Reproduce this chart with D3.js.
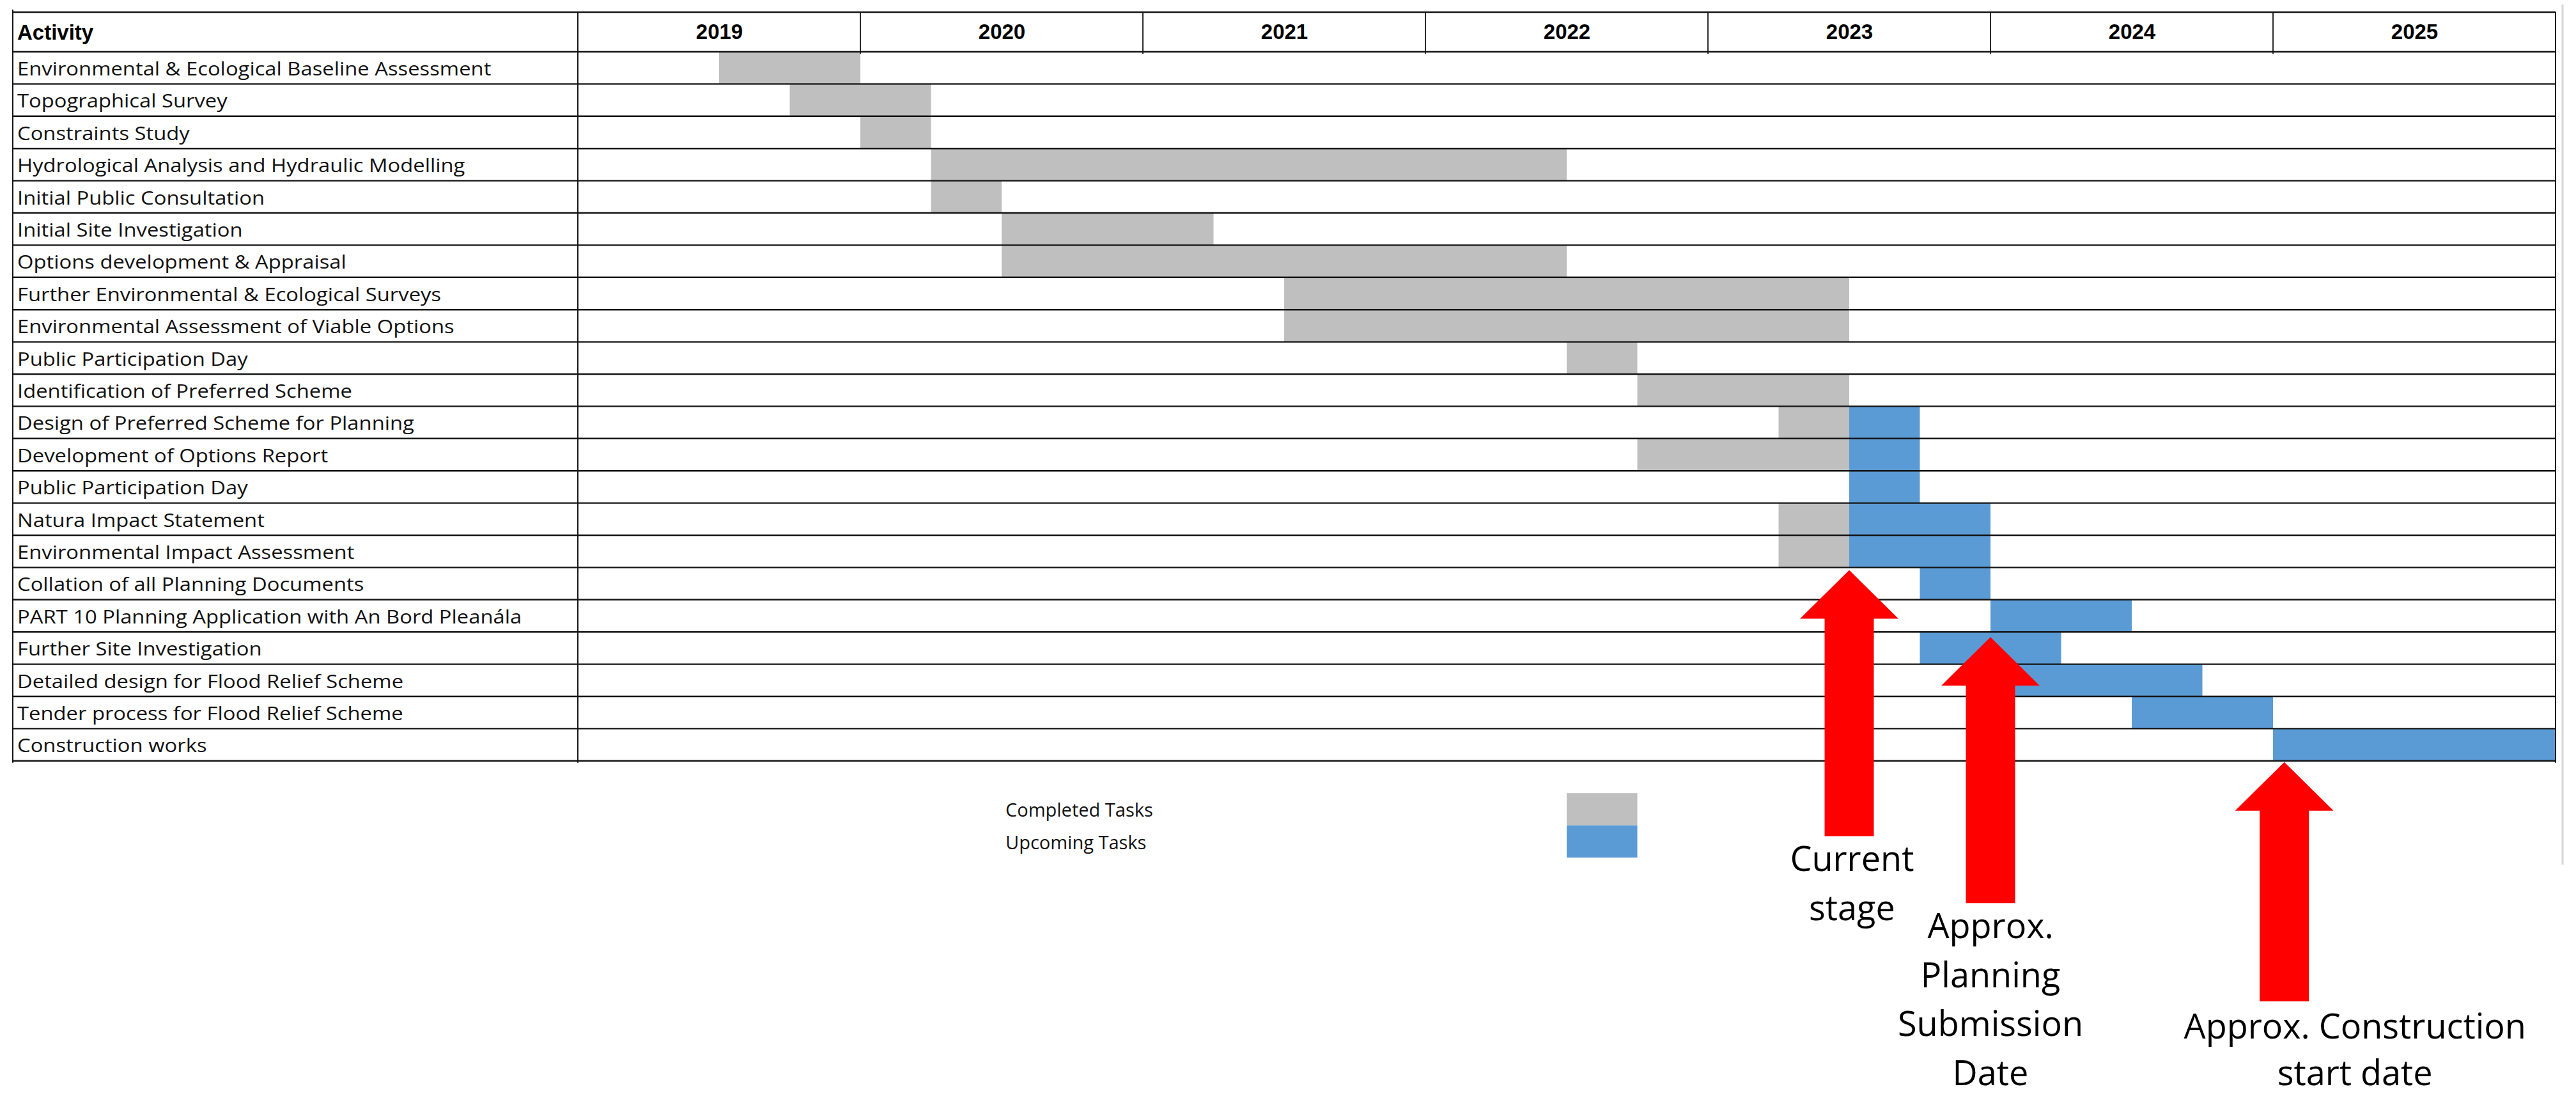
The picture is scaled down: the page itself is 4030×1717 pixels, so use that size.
<!DOCTYPE html>
<html>
<head>
<meta charset="utf-8">
<script src="https://cdn.jsdelivr.net/npm/d3@7"></script>
<style>
  html, body { margin: 0; padding: 0; background: #fff; }
  svg { display: block; }
</style>
</head>
<body>
<svg id="chart" width="4030" height="1717"></svg>
<script>
// ---------------- DATA ----------------
const activities = [
  "Environmental & Ecological Baseline Assessment",
  "Topographical Survey",
  "Constraints Study",
  "Hydrological Analysis and Hydraulic Modelling",
  "Initial Public Consultation",
  "Initial Site Investigation",
  "Options development & Appraisal",
  "Further Environmental & Ecological Surveys",
  "Environmental Assessment of Viable Options",
  "Public Participation Day",
  "Identification of Preferred Scheme",
  "Design of Preferred Scheme for Planning",
  "Development of Options Report",
  "Public Participation Day",
  "Natura Impact Statement",
  "Environmental Impact Assessment",
  "Collation of all Planning Documents",
  "PART 10 Planning Application with An Bord Pleanála",
  "Further Site Investigation",
  "Detailed design for Flood Relief Scheme",
  "Tender process for Flood Relief Scheme",
  "Construction works"
];

// completed (grey) task spans, in fractional years [start, end]
const completed = [
  [2019.5, 2020.0],
  [2019.75, 2020.25],
  [2020.0, 2020.25],
  [2020.25, 2022.5],
  [2020.25, 2020.5],
  [2020.5, 2021.25],
  [2020.5, 2022.5],
  [2021.5, 2023.5],
  [2021.5, 2023.5],
  [2022.5, 2022.75],
  [2022.75, 2023.5],
  [2023.25, 2023.5],
  [2022.75, 2023.5],
  null,
  [2023.25, 2023.5],
  [2023.25, 2023.5],
  null, null, null, null, null, null
];

// upcoming (blue) task spans, in fractional years [start, end]
const upcoming = [
  null, null, null, null, null, null, null, null, null, null, null,
  [2023.5, 2023.75],
  [2023.5, 2023.75],
  [2023.5, 2023.75],
  [2023.5, 2024.0],
  [2023.5, 2024.0],
  [2023.75, 2024.0],
  [2024.0, 2024.5],
  [2023.75, 2024.25],
  [2024.0, 2024.75],
  [2024.5, 2025.0],
  [2025.0, 2026.0]
];

const years = [2019, 2020, 2021, 2022, 2023, 2024, 2025];

const legendLabels = ["Completed Tasks", "Upcoming Tasks"];
const legendSpan = [2022.5, 2022.75];

// milestone arrows: date pointed at, row the tip reaches, label anchor date, label lines
const markerDates = [2023.5, 2024.0, 2025.04];
const markerRows = [16, 18, 22];
const markerLabelAt = [2023.51, 2024.0, 2025.29];
const markerLabels = [
  ["Current", "stage"],
  ["Approx.", "Planning", "Submission", "Date"],
  ["Approx. Construction", "start date"]
];

// ---------------- LAYOUT ----------------
const COLORS = { done: "#bfbfbf", todo: "#5b9bd5", arrow: "#ff0000", line: "#141414" };
const tableLeft = 20, labelColRight = 904, tableRight = 3998;
const tableTop = 19, headerBottom = 81, rowStep = 50.4;
const nRows = activities.length + 3; // 22 activities + blank row + 2 legend rows

const svg = d3.select("#chart");
svg.append("rect").attr("width", 4030).attr("height", 1717).attr("fill", "#fff");

const x = d3.scaleLinear().domain([2019, 2026]).range([labelColRight, tableRight]);
const y = d3.scaleBand().domain(d3.range(nRows))
  .range([headerBottom, headerBottom + nRows * rowStep]).paddingInner(0).paddingOuter(0);
const tableBottom = y(activities.length - 1) + y.bandwidth();

// faint page edge line
svg.append("line").attr("x1", 4009).attr("x2", 4009).attr("y1", 7).attr("y2", 1352)
  .attr("stroke", "#d6d6d6").attr("stroke-width", 3);

// bars
const bars = svg.append("g");
function drawSpans(spans, color) {
  const data = spans.map((s, i) => ({ s, i })).filter(d => d.s);
  bars.selectAll(null).data(data).enter().append("rect")
    .attr("x", d => x(d.s[0]))
    .attr("width", d => x(d.s[1]) - x(d.s[0]))
    .attr("y", d => y(d.i))
    .attr("height", y.bandwidth())
    .attr("fill", color);
}
drawSpans(completed, COLORS.done);
drawSpans(upcoming, COLORS.todo);

// legend swatches
[COLORS.done, COLORS.todo].forEach((c, k) => {
  svg.append("rect")
    .attr("x", x(legendSpan[0])).attr("width", x(legendSpan[1]) - x(legendSpan[0]))
    .attr("y", y(activities.length + 1 + k)).attr("height", y.bandwidth())
    .attr("fill", c);
});
svg.append("g").selectAll("text").data(legendLabels).enter().append("text")
  .attr("x", x(2020.5) + 6)
  .attr("y", (d, k) => y(activities.length + 1 + k) + 37)
  .attr("font-family", "'Open Sans', sans-serif").attr("font-size", 29)
  .attr("fill", "#111").text(d => d);

// grid lines
const grid = svg.append("g").attr("stroke", COLORS.line).attr("stroke-width", 2.4);
const hLines = [tableTop].concat(d3.range(activities.length + 1).map(i => i < activities.length ? y(i) : tableBottom));
grid.selectAll(".h").data(hLines).enter().append("line")
  .attr("x1", tableLeft).attr("x2", tableRight)
  .attr("y1", d => d).attr("y2", d => d);
grid.append("line").attr("x1", tableLeft).attr("x2", tableLeft).attr("y1", 15).attr("y2", tableBottom + 3).attr("stroke-width", 2);
grid.append("line").attr("x1", labelColRight).attr("x2", labelColRight).attr("y1", tableTop).attr("y2", tableBottom + 3).attr("stroke-width", 2);
grid.append("line").attr("x1", tableRight).attr("x2", tableRight).attr("y1", tableTop).attr("y2", tableBottom + 3).attr("stroke-width", 2);
grid.selectAll(".v").data(years.slice(1)).enter().append("line")
  .attr("x1", d => x(d)).attr("x2", d => x(d))
  .attr("y1", tableTop).attr("y2", headerBottom + 3).attr("stroke-width", 1.8);

// header
svg.append("text").attr("x", 27).attr("y", 62)
  .attr("font-family", "'Liberation Sans', Arial, sans-serif").attr("font-weight", "bold")
  .attr("font-size", 33).attr("fill", "#000").text("Activity");

const axis = d3.axisTop(x)
  .tickValues(years.map(v => v + 0.5))
  .tickFormat(d => String(Math.floor(d)))
  .tickSize(0).tickPadding(0);
const axG = svg.append("g").attr("transform", `translate(0,61)`).call(axis);
axG.select(".domain").remove();
axG.selectAll("text")
  .attr("font-family", "'Liberation Sans', Arial, sans-serif")
  .attr("font-weight", "bold").attr("font-size", 33).attr("fill", "#000");

// row labels
svg.append("g").selectAll("text").data(activities).enter().append("text")
  .attr("transform", (d, i) => `translate(27,${y(i) + 37}) scale(1.13,1)`)
  .attr("font-family", "'Open Sans', sans-serif").attr("font-size", 29)
  .attr("fill", "#111").text(d => d);

// arrows
const headHalf = 77, headLen = 76, shaftHalf = 38.5;
const arrowLen = [416, 416, 374];
const labelGap = [55, 55, 58];
const lineGap = [76.5, 76.5, 73];
const arrows = svg.append("g");
markerDates.forEach((dt, k) => {
  const cx = x(dt);
  const tipY = y(markerRows[k]) + (k === 0 ? 4 : k === 1 ? 8 : 2);
  const bottomY = tipY + arrowLen[k];
  const p = d3.path();
  p.moveTo(cx, tipY);
  p.lineTo(cx + headHalf, tipY + headLen);
  p.lineTo(cx + shaftHalf, tipY + headLen);
  p.lineTo(cx + shaftHalf, bottomY);
  p.lineTo(cx - shaftHalf, bottomY);
  p.lineTo(cx - shaftHalf, tipY + headLen);
  p.lineTo(cx - headHalf, tipY + headLen);
  p.closePath();
  arrows.append("path").attr("d", p.toString()).attr("fill", COLORS.arrow);

  const firstBase = bottomY + labelGap[k];
  const t = arrows.append("text")
    .attr("font-family", "'Open Sans', sans-serif").attr("font-size", 54)
    .attr("fill", "#000").attr("text-anchor", "middle");
  markerLabels[k].forEach((line, j) => {
    t.append("tspan").attr("x", x(markerLabelAt[k])).attr("y", firstBase + j * lineGap[k]).text(line);
  });
});
</script>
</body>
</html>
